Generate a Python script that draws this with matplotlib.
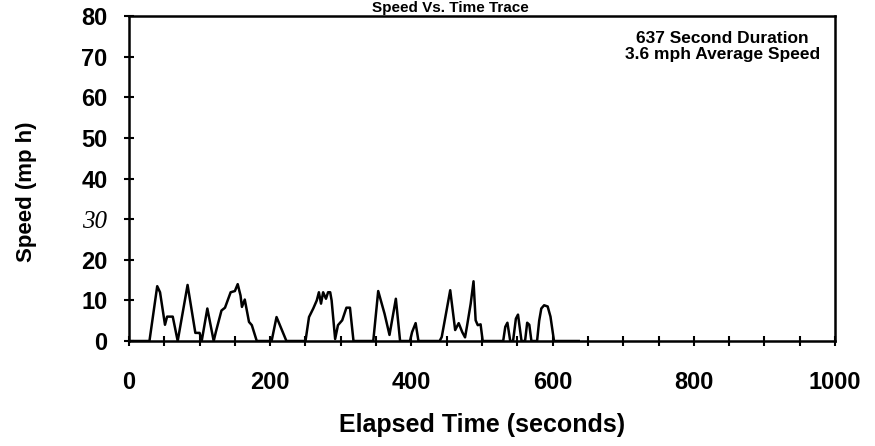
import matplotlib.pyplot as plt
from matplotlib.ticker import MultipleLocator

# speed trace (seconds, mph)
time_s = [0, 29, 40, 44, 51, 54, 62, 69, 83, 94, 100, 103, 111, 120, 123, 131, 136,
          144, 150, 154, 158, 160, 164, 170, 174, 181,
          202, 209, 223,
          250, 255, 261, 266, 269, 272, 275, 279, 282, 285, 287, 292, 296, 302, 308, 313, 318,
          346, 353, 362, 369, 378, 384,
          398, 401, 406, 410,
          440, 443, 455, 462, 467, 472, 476, 479, 484, 488, 491, 494, 498, 501,
          530, 533, 536, 540, 544, 548, 551, 556, 561, 564, 567, 570, 578, 581, 584, 588, 593,
          597, 602, 637]
speed_mph = [0, 0, 13.5, 12, 4, 6, 6, 0, 13.8, 2, 2, 0, 8, 0, 2.2, 7.5, 8.2,
             12, 12.3, 14, 11.2, 8.4, 10.2, 4.7, 3.9, 0,
             0, 5.9, 0,
             0, 5.9, 8, 10, 12, 9.2, 12, 10.4, 12, 12, 10, 0.5, 3.9, 5.1, 8.2, 8.2, 0,
             0, 12.3, 6.7, 1.5, 10.4, 0,
             0, 2.2, 4.4, 0,
             0, 1, 12.5, 2.7, 4.4, 2.2, 0.9, 3.9, 9.2, 14.7, 5.1, 3.9, 4.1, 0,
             0, 3.5, 4.5, 0, 0, 5.5, 6.5, 0, 0, 4.5, 4, 0, 0, 5, 8, 8.8, 8.5,
             6, 0, 0]

x_ticks = [0, 200, 400, 600, 800, 1000]
y_ticks = [0, 10, 20, 30, 40, 50, 60, 70, 80]

plt.rcParams['font.family'] = ['Liberation Sans', 'DejaVu Sans']

fig = plt.figure(figsize=(8.75, 4.46), dpi=100)
ax = fig.add_axes([0.1474, 0.2354, 0.9543 - 0.1474, 0.9641 - 0.2354])

ax.plot(time_s, speed_mph, color='black', linewidth=1.8)

ax.set_xlim(0, 1000)
ax.set_ylim(0, 80)
ax.set_xticks(x_ticks)
ax.set_yticks(y_ticks)
ax.xaxis.set_minor_locator(MultipleLocator(50))
ax.tick_params(which='both', direction='inout', length=7, width=1.5, color='black')
ax.tick_params(axis='x', labelsize=17, pad=18)
ax.tick_params(axis='y', labelsize=17, pad=12)
for lbl in ax.get_xticklabels() + ax.get_yticklabels():
    lbl.set_fontweight('bold')
# the 30 label is printed in an italic serif face in the original
lbl30 = ax.get_yticklabels()[3]
lbl30.set_fontweight('normal')
lbl30.set_fontstyle('italic')
lbl30.set_family('Liberation Serif')
lbl30.set_fontsize(18)

for s in ax.spines.values():
    s.set_linewidth(1.8)

ax.set_xlabel('Elapsed Time (seconds)', fontsize=18, fontweight='bold', labelpad=14)
ax.set_ylabel('Speed (mp h)', fontsize=16, fontweight='bold')
ax.yaxis.set_label_coords(-0.13, 0.46)

ax.text(0.979, 0.955, '637 Second Duration\n3.6 mph Average Speed', transform=ax.transAxes,
        ha='right', va='top', fontsize=12.5, fontweight='bold', linespacing=1.15,
        multialignment='center')

# title sits right against the top edge in the original
fig.text(450 / 875, 1 - 15 / 446, 'Speed Vs. Time Trace', ha='center', va='bottom',
         fontsize=11, fontweight='bold')

fig.savefig('out.png', dpi=100)
